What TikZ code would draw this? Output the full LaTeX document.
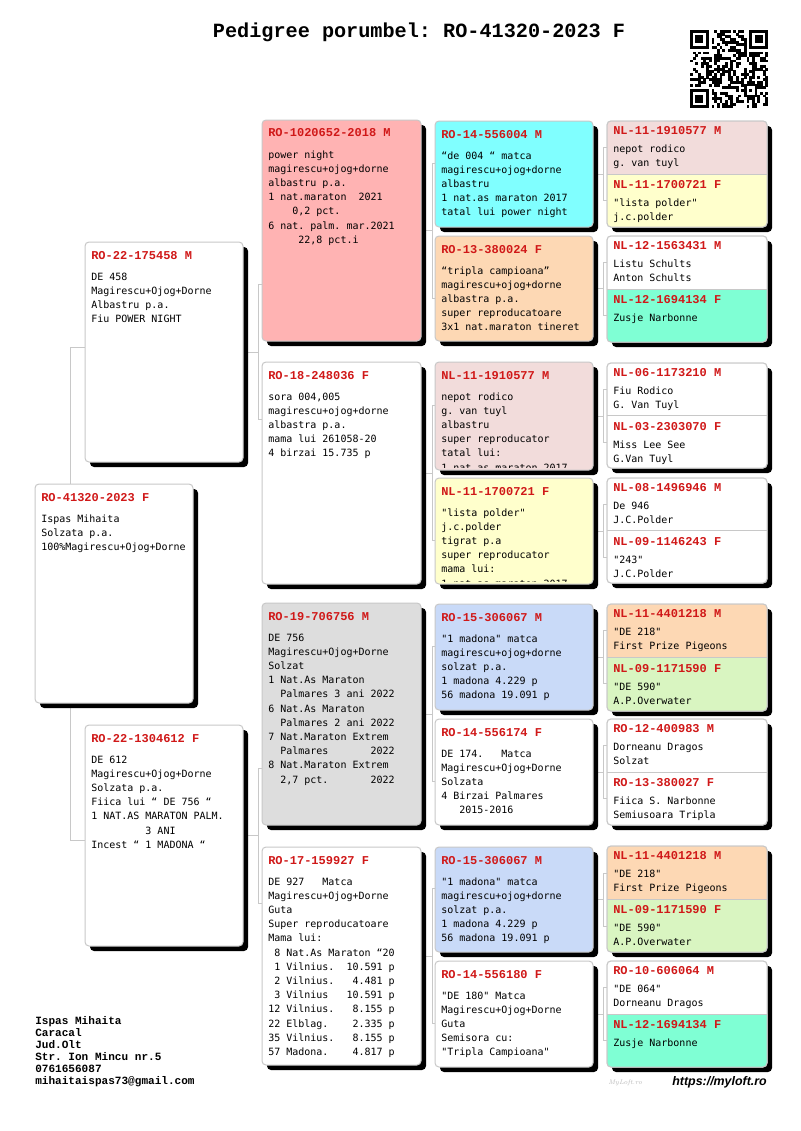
\documentclass[tikz,border=0pt]{standalone}
\usepackage{fontspec}
\usetikzlibrary{shadows,fit,calc}
\newfontfamily\bodyf{DejaVu Sans Mono}
\newfontfamily\courf{Liberation Mono}
\newfontfamily\urlf{Liberation Sans}
\frenchspacing
\pgfdeclarelayer{bg}
\pgfsetlayers{bg,main}
\definecolor{boxline}{RGB}{200,200,200}
\definecolor{connline}{RGB}{200,200,200}
\definecolor{idred}{RGB}{208,24,24}
\definecolor{cPink}{RGB}{255,179,179}
\definecolor{cCyan}{RGB}{128,255,255}
\definecolor{cPeach}{RGB}{253,216,180}
\definecolor{cLPink}{RGB}{242,220,219}
\definecolor{cLYellow}{RGB}{255,255,204}
\definecolor{cLBlue}{RGB}{201,218,248}
\definecolor{cGray}{RGB}{221,221,221}
\definecolor{cTeal}{RGB}{127,255,212}
\definecolor{cLGreen}{RGB}{217,245,193}
\newcommand\blines[1]{\vtop{\halign{##\hfil\cr#1\crcr}}}
\tikzset{
  pbox/.style={draw=boxline, line width=0.75pt, rounded corners=3pt, inner sep=0pt, outer sep=0pt,
    drop shadow={shadow xshift=3.75pt, shadow yshift=-3.75pt, opacity=1, fill=black}},
  halfbox/.style={inner sep=0pt, outer sep=0pt, draw=none},
  bline/.style={draw=boxline, line width=0.75pt, rounded corners=3pt},
  idtext/.style={anchor=base west, inner sep=0pt, text=idred, font=\courf\bfseries\fontsize{9}{10}\selectfont},
  bodytext/.style={anchor=base west, inner sep=0pt, font=\bodyf\frenchspacing\fontsize{7.5}{10.65}\selectfont},
  conn/.style={draw=connline, line width=0.75pt},
}
\newcommand\bigbox[8]{%
  \node[pbox,fill=#6,fit={(#2,#3) (#4,#5)}] (#1) {};
  \node[idtext] (#1-id) at ($(#1.north west)+(6,17)$) {#7};
  \node[bodytext] (#1-tx) at ($(#1.north west)+(6,38)$) {\blines{#8}};
}
\newcommand\clipbox[8]{%
  \node[pbox,fill=#6,fit={(#2,#3) (#4,#5)}] (#1) {};
  \node[idtext] (#1-id) at ($(#1.north west)+(6,17)$) {#7};
  \begin{scope}
    \clip ($(#1.north west)+(1,1)$) rectangle ($(#1.south east)+(-1,-3)$);
    \node[bodytext] (#1-tx) at ($(#1.north west)+(6,38)$) {\blines{#8}};
  \end{scope}
}
\newcommand\pairbox[9]{%
  \node[pbox,fill=white,fit={(607,#2) (767,#3)}] (#1) {};
  \begin{scope}
    \clip[rounded corners=3pt] (#1.north west) rectangle (#1.south east);
    \node[halfbox,fill=#4,fit={(607,#2) (767,{(#2+#3)/2})}] (#1m) {};
    \node[halfbox,fill=#5,fit={(607,{(#2+#3)/2}) (767,#3)}] (#1f) {};
  \end{scope}
  \draw[bline] (#1.north west) rectangle (#1.south east);
  \draw[bline] (#1m.south west) -- (#1m.south east);
  \node[idtext] (#1m-id) at ($(#1.north west)+(6,13.5)$) {#6};
  \node[bodytext] (#1m-tx) at ($(#1.north west)+(6,31)$) {\blines{#7}};
  \node[idtext] (#1f-id) at ($(#1m.south west)+(6,14.5)$) {#8};
  \node[bodytext] (#1f-tx) at ($(#1m.south west)+(6,32.5)$) {\blines{#9}};
}
\newcommand\bracket[5]{%
  \coordinate (#1-ka) at ($(#1.east)+(0,-#4)$);
  \coordinate (#1-kb) at ($(#1.east)+(0,#4)$);
  \draw[conn] (#1.east) -- ($(#1.east -| #2.west)+(-#5,0)$);
  \draw[conn] (#2.west |- #1-ka) -- ++(-#5,0) |- (#3.west |- #1-kb);
}
\begin{document}
\begin{tikzpicture}[x=0.75pt,y=-0.75pt]
\useasboundingbox (0,0) rectangle (800,1131);
\begin{pgfonlayer}{bg}
\fill[white] (0,0) rectangle (800,1131);
\end{pgfonlayer}

% title
\node[anchor=base, inner sep=0pt, font=\courf\bfseries\fontsize{15.15}{18}\selectfont] (title) at (419,38) {Pedigree porumbel: RO-41320-2023 F};

% QR code (29 modules)
\def\qm{2.69}
\fill (690,30) rectangle ++(7*\qm,7*\qm);
\fill[white] (690+\qm,30+\qm) rectangle ++(5*\qm,5*\qm);
\fill (690+2*\qm,30+2*\qm) rectangle ++(3*\qm,3*\qm);
\fill (690+22*\qm,30) rectangle ++(7*\qm,7*\qm);
\fill[white] (690+23*\qm,30+\qm) rectangle ++(5*\qm,5*\qm);
\fill (690+24*\qm,30+2*\qm) rectangle ++(3*\qm,3*\qm);
\fill (690,30+22*\qm) rectangle ++(7*\qm,7*\qm);
\fill[white] (690+\qm,30+23*\qm) rectangle ++(5*\qm,5*\qm);
\fill (690+2*\qm,30+24*\qm) rectangle ++(3*\qm,3*\qm);
\fill (690+20*\qm,30+20*\qm) rectangle ++(5*\qm,5*\qm);
\fill[white] (690+21*\qm,30+21*\qm) rectangle ++(3*\qm,3*\qm);
\fill (690+22*\qm,30+22*\qm) rectangle ++(\qm,\qm);
\pgfmathsetseed{4242}
\foreach \qi in {0,...,28}{
  \foreach \qj in {0,...,28}{
    \pgfmathtruncatemacro\qskip{((\qi<8)&&(\qj<8))||((\qi>20)&&(\qj<8))||((\qi<8)&&(\qj>20))||((\qi>19)&&(\qi<25)&&(\qj>19)&&(\qj<25))}
    \ifnum\qskip=0
      \pgfmathtruncatemacro\qbit{random(0,1)}
      \ifnum\qbit=1 \fill (690+\qi*\qm,30+\qj*\qm) rectangle ++(\qm+0.2,\qm+0.2);\fi
    \fi
  }
}

% generation 0 and 1
\bigbox{subj}{35}{484}{193}{703}{white}{RO-41320-2023 F}{Ispas Mihaita\cr Solzata p.a.\cr 100\%Magirescu+Ojog+Dorne}
\bigbox{s1}{85}{242}{243}{462}{white}{RO-22-175458 M}{DE 458\cr Magirescu+Ojog+Dorne\cr Albastru p.a.\cr Fiu POWER NIGHT}
\bigbox{d1}{85}{725}{243}{946}{white}{RO-22-1304612 F}{DE 612\cr Magirescu+Ojog+Dorne\cr Solzata p.a.\cr Fiica lui “ DE 756 “\cr 1 NAT.AS MARATON PALM.\cr ~~~~~~~~~3 ANI\cr Incest “ 1 MADONA “}

% generation 2
\bigbox{g2a}{262}{120}{421}{341}{cPink}{RO-1020652-2018 M}{power night\cr magirescu+ojog+dorne\cr albastru p.a.\cr 1 nat.maraton~~2021\cr ~~~~0,2 pct.\cr 6 nat. palm. mar.2021\cr ~~~~~22,8 pct.i}
\bigbox{g2b}{262}{362}{421}{584}{white}{RO-18-248036 F}{sora 004,005\cr magirescu+ojog+dorne\cr albastra p.a.\cr mama lui 261058-20\cr 4 birzai 15.735 p}
\bigbox{g2c}{262}{603}{421}{825}{cGray}{RO-19-706756 M}{DE 756\cr Magirescu+Ojog+Dorne\cr Solzat\cr 1 Nat.As Maraton\cr ~~Palmares 3 ani 2022\cr 6 Nat.As Maraton\cr ~~Palmares 2 ani 2022\cr 7 Nat.Maraton Extrem\cr ~~Palmares~~~~~~~2022\cr 8 Nat.Maraton Extrem\cr ~~2,7 pct.~~~~~~~2022}
\bigbox{g2d}{262}{847}{421}{1065}{white}{RO-17-159927 F}{DE 927~~~Matca\cr Magirescu+Ojog+Dorne\cr Guta\cr Super reproducatoare\cr Mama lui:\cr ~8 Nat.As Maraton “20\cr ~1 Vilnius.~~10.591 p\cr ~2 Vilnius.~~~4.481 p\cr ~3 Vilnius~~~10.591 p\cr 12 Vilnius.~~~8.155 p\cr 22 Elblag.~~~~2.335 p\cr 35 Vilnius.~~~8.155 p\cr 57 Madona.~~~~4.817 p}

% generation 3
\bigbox{g3a}{435}{121}{593}{227}{cCyan}{RO-14-556004 M}{“de 004 “ matca\cr magirescu+ojog+dorne\cr albastru\cr 1 nat.as maraton 2017\cr tatal lui power night}
\bigbox{g3b}{435}{236}{593}{341}{cPeach}{RO-13-380024 F}{“tripla campioana”\cr magirescu+ojog+dorne\cr albastra p.a.\cr super reproducatoare\cr 3x1 nat.maraton tineret}
\clipbox{g3c}{435}{362}{593}{470}{cLPink}{NL-11-1910577 M}{nepot rodico\cr g. van tuyl\cr albastru\cr super reproducator\cr tatal lui:\cr 1 nat.as maraton 2017}
\clipbox{g3d}{435}{478}{593}{584}{cLYellow}{NL-11-1700721 F}{"lista polder"\cr j.c.polder\cr tigrat p.a\cr super reproducator\cr mama lui:\cr 1 nat.as maraton 2017}
\bigbox{g3e}{435}{604}{593}{710}{cLBlue}{RO-15-306067 M}{"1 madona" matca\cr magirescu+ojog+dorne\cr solzat p.a.\cr 1 madona 4.229 p\cr 56 madona 19.091 p}
\bigbox{g3f}{435}{719}{593}{825}{white}{RO-14-556174 F}{DE 174.~~~Matca\cr Magirescu+Ojog+Dorne\cr Solzata\cr 4 Birzai Palmares\cr ~~~2015-2016}
\bigbox{g3g}{435}{847}{593}{952}{cLBlue}{RO-15-306067 M}{"1 madona" matca\cr magirescu+ojog+dorne\cr solzat p.a.\cr 1 madona 4.229 p\cr 56 madona 19.091 p}
\bigbox{g3h}{435}{961}{593}{1067}{white}{RO-14-556180 F}{"DE 180" Matca\cr Magirescu+Ojog+Dorne\cr Guta\cr Semisora cu:\cr "Tripla Campioana"}

% generation 4
\pairbox{g4a}{121}{227}{cLPink}{cLYellow}{NL-11-1910577 M}{nepot rodico\cr g. van tuyl}{NL-11-1700721 F}{"lista polder"\cr j.c.polder}
\pairbox{g4b}{236}{342}{white}{cTeal}{NL-12-1563431 M}{Listu Schults\cr Anton Schults}{NL-12-1694134 F}{Zusje Narbonne}
\pairbox{g4c}{363}{468}{white}{white}{NL-06-1173210 M}{Fiu Rodico\cr G. Van Tuyl}{NL-03-2303070 F}{Miss Lee See\cr G.Van Tuyl}
\pairbox{g4d}{478}{583}{white}{white}{NL-08-1496946 M}{De 946\cr J.C.Polder}{NL-09-1146243 F}{"243"\cr J.C.Polder}
\pairbox{g4e}{604}{711}{cPeach}{cLGreen}{NL-11-4401218 M}{"DE 218"\cr First Prize Pigeons}{NL-09-1171590 F}{"DE 590"\cr A.P.Overwater}
\pairbox{g4f}{719}{825}{white}{white}{RO-12-400983 M}{Dorneanu Dragos\cr Solzat}{RO-13-380027 F}{Fiica S. Narbonne\cr Semiusoara Tripla}
\pairbox{g4g}{846}{952}{cPeach}{cLGreen}{NL-11-4401218 M}{"DE 218"\cr First Prize Pigeons}{NL-09-1171590 F}{"DE 590"\cr A.P.Overwater}
\pairbox{g4h}{961}{1067}{white}{cTeal}{RO-10-606064 M}{"DE 064"\cr Dorneanu Dragos}{NL-12-1694134 F}{Zusje Narbonne}

% connectors
\begin{pgfonlayer}{bg}
\coordinate (subj-ka) at ($(subj.center)+(0,-246.5)$);
\coordinate (subj-kb) at ($(subj.center)+(0,246.5)$);
\draw[conn] (s1.west |- subj-ka) -- ++(-15,0) |- (d1.west |- subj-kb);
\bracket{s1}{g2a}{g2b}{67.5}{4}
\bracket{d1}{g2c}{g2d}{67.5}{4}
\bracket{g2a}{g3a}{g3b}{67.5}{3}
\bracket{g2b}{g3c}{g3d}{67.5}{3}
\bracket{g2c}{g3e}{g3f}{67.5}{3}
\bracket{g2d}{g3g}{g3h}{67.5}{3}
\bracket{g3a}{g4a}{g4a}{26.5}{4}
\bracket{g3b}{g4b}{g4b}{26.5}{4}
\bracket{g3c}{g4c}{g4c}{26.5}{4}
\bracket{g3d}{g4d}{g4d}{26.5}{4}
\bracket{g3e}{g4e}{g4e}{26.5}{4}
\bracket{g3f}{g4f}{g4f}{26.5}{4}
\bracket{g3g}{g4g}{g4g}{26.5}{4}
\bracket{g3h}{g4h}{g4h}{26.5}{4}
\end{pgfonlayer}

% contact and footer
\node[anchor=base west, inner sep=0pt, font=\courf\bfseries\frenchspacing\fontsize{8.3}{9}\selectfont] (contact) at (35,1024.5) {\blines{Ispas Mihaita\cr Caracal\cr Jud.Olt\cr Str. Ion Mincu nr.5\cr 0761656087\cr mihaitaispas73@gmail.com}};
\node[anchor=base west, inner sep=0pt, text=gray!55, font=\itshape\fontsize{5}{6}\selectfont] (sig) at (608,1084) {MyLoft.ro};
\node[anchor=base east, inner sep=0pt, font=\urlf\bfseries\itshape\fontsize{9.3}{11}\selectfont] (url) at (767,1085.5) {https://myloft.ro};
\end{tikzpicture}
\end{document}
